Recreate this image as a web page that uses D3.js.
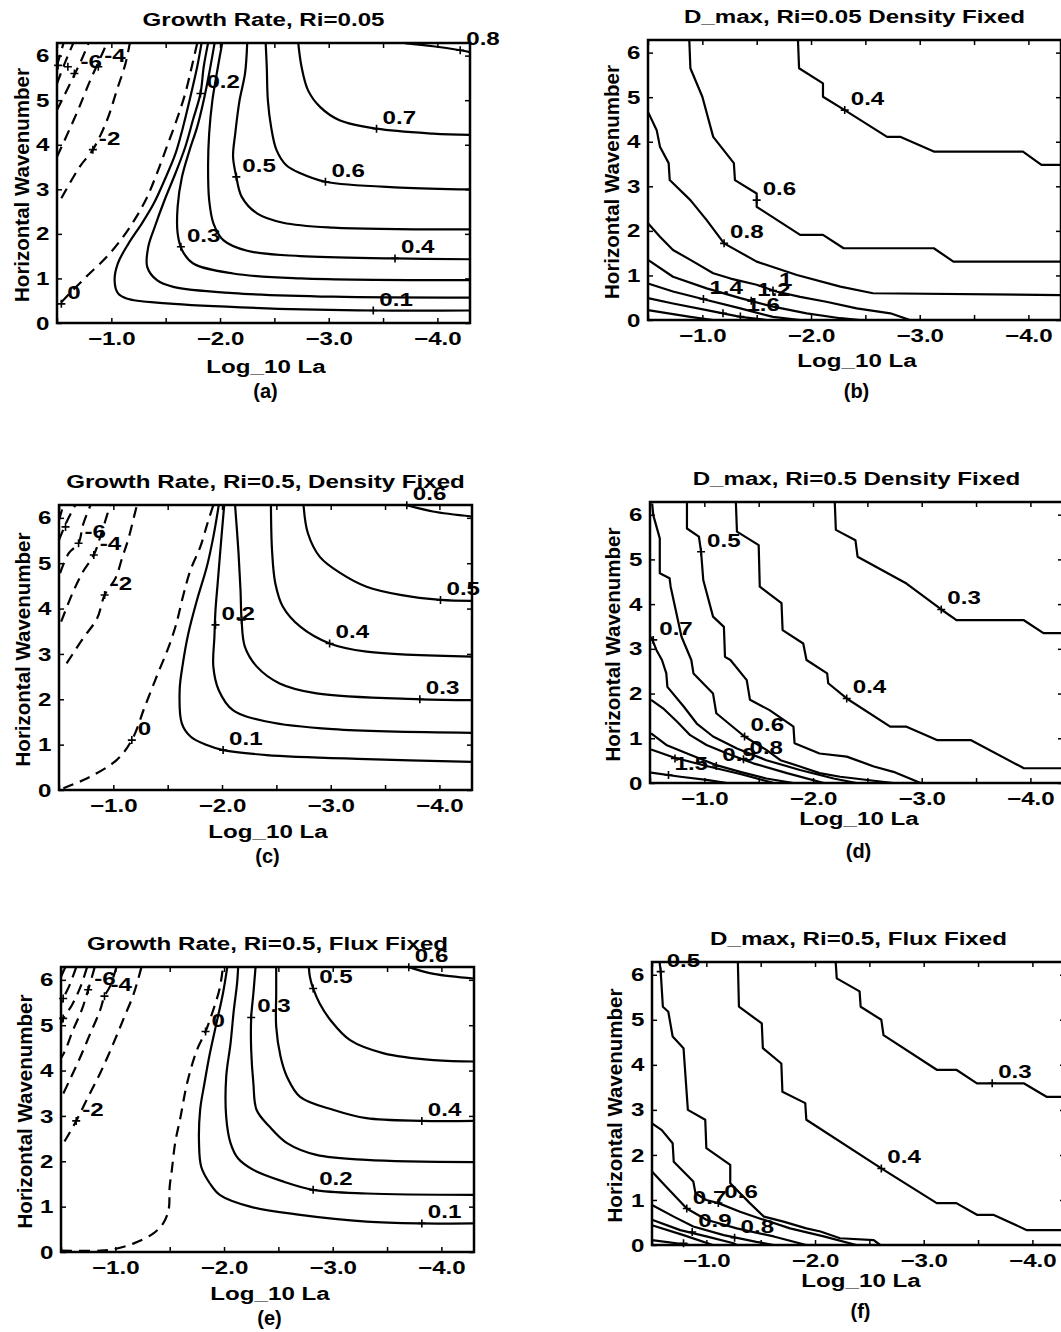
<!DOCTYPE html>
<html>
<head>
<meta charset="utf-8">
<script src="https://cdn.jsdelivr.net/npm/d3@7"></script>
<style>
  body { margin: 0; background: #fff; }
  svg { display: block; }
  text { font-family: "Liberation Sans", Arial, Helvetica, sans-serif; font-weight: bold; font-size: 19px; fill: #000; }
</style>
</head>
<body>
<svg id="fig" width="1061" height="1332"></svg>
<script>
// tick values and labels
const xTicks = [-1, -2, -3, -4];
const xTickLabels = ["\u22121.0", "\u22122.0", "\u22123.0", "\u22124.0"];
const xMinorTicks = [-0.5, -1, -1.5, -2, -2.5, -3, -3.5, -4];
const yTicks = [0, 1, 2, 3, 4, 5, 6];

const titles = [
  "Growth Rate, Ri=0.05", "D_max, Ri=0.05 Density Fixed",
  "Growth Rate, Ri=0.5, Density Fixed", "D_max, Ri=0.5 Density Fixed",
  "Growth Rate, Ri=0.5, Flux Fixed", "D_max, Ri=0.5, Flux Fixed"
];
const panelTags = ["(a)", "(b)", "(c)", "(d)", "(e)", "(f)"];

// contour lines: [log10 La, wavenumber]
const contoursA = [
  { level: 0.8, pts: [[-3.70,6.28],[-3.96,6.21],[-4.21,6.12],[-4.30,6.08]] },
  { level: 0.7, pts: [[-2.72,6.28],[-2.75,5.75],[-2.81,5.22],[-2.92,4.85],[-3.10,4.55],[-3.44,4.36],[-3.96,4.25],[-4.30,4.22]] },
  { level: 0.6, pts: [[-2.42,6.28],[-2.43,5.75],[-2.44,5.00],[-2.47,4.40],[-2.52,3.88],[-2.61,3.54],[-2.74,3.36],[-2.97,3.17],[-3.66,3.04],[-4.30,3.00]] },
  { level: 0.5, pts: [[-2.25,6.28],[-2.23,5.60],[-2.18,5.00],[-2.14,4.25],[-2.12,3.73],[-2.15,3.28],[-2.20,2.83],[-2.34,2.46],[-2.58,2.25],[-3.04,2.14],[-4.30,2.10]] },
  { level: 0.4, pts: [[-2.02,6.28],[-1.97,5.60],[-1.93,5.00],[-1.90,4.25],[-1.89,3.51],[-1.90,2.76],[-1.94,2.23],[-2.03,1.86],[-2.25,1.62],[-2.74,1.50],[-3.61,1.45],[-4.30,1.43]] },
  { level: 0.3, pts: [[-1.95,6.28],[-1.90,5.60],[-1.85,5.00],[-1.79,4.40],[-1.72,3.88],[-1.65,3.28],[-1.61,2.61],[-1.61,2.01],[-1.65,1.64],[-1.75,1.34],[-2.12,1.11],[-2.74,1.00],[-4.30,0.96]] },
  { level: 0.2, pts: [[-1.89,6.28],[-1.85,5.75],[-1.82,5.15],[-1.75,4.55],[-1.68,3.95],[-1.59,3.36],[-1.49,2.76],[-1.40,2.16],[-1.34,1.71],[-1.33,1.26],[-1.42,0.96],[-1.57,0.81],[-2.12,0.67],[-3.04,0.59],[-4.30,0.57]] },
  { level: 0.1, pts: [[-1.83,6.28],[-1.79,5.75],[-1.72,5.00],[-1.66,4.40],[-1.59,3.80],[-1.49,3.21],[-1.39,2.68],[-1.28,2.23],[-1.16,1.79],[-1.06,1.34],[-1.03,0.96],[-1.06,0.67],[-1.14,0.55],[-1.51,0.44],[-2.43,0.33],[-3.41,0.28],[-4.30,0.28]] },
  { level: 0, pts: [[-1.79,6.28],[-1.74,5.75],[-1.68,5.15],[-1.60,4.55],[-1.51,3.95],[-1.42,3.36],[-1.33,2.83],[-1.23,2.38],[-1.11,1.94],[-0.96,1.49],[-0.77,1.04],[-0.62,0.67],[-0.53,0.44]] },
  { level: -2, pts: [[-0.54,2.80],[-0.71,3.51],[-0.83,3.89],[-0.96,4.55],[-1.05,5.22],[-1.13,5.82],[-1.17,6.28]] },
  { level: -4, pts: [[-0.50,3.73],[-0.68,4.70],[-0.80,5.41],[-0.91,6.01],[-0.96,6.28]] },
  { level: -6, pts: [[-0.50,4.78],[-0.62,5.37],[-0.73,5.93],[-0.79,6.28]] },
  { level: -8, pts: [[-0.50,5.37],[-0.57,5.82],[-0.65,6.28]] },
  { level: -10, pts: [[-0.50,5.78],[-0.56,6.28]] }
];
const labelsA = [["0.8",-4.21,6.12],["0.7",-3.44,4.36],["0.6",-2.97,3.17],["0.5",-2.15,3.28],["0.4",-3.61,1.45],
  ["0.3",-1.64,1.71],["0.2",-1.82,5.15],["0.1",-3.41,0.28],["0",-0.54,0.43],["-2",-0.83,3.89],["-4",-0.88,5.75],
  ["-6",-0.66,5.60],["",-0.51,5.78],["",-0.60,5.75]];

const contoursB = [
  { level: 0.4, pts: [[-1.88,6.28],[-1.89,5.65],[-2.11,5.31],[-2.11,5.01],[-2.31,4.71],[-2.70,4.11],[-2.82,4.11],[-3.13,3.78],[-3.95,3.78],[-4.12,3.48],[-4.30,3.48]] },
  { level: 0.6, pts: [[-0.88,6.28],[-0.89,5.65],[-1.00,5.01],[-1.10,4.11],[-1.29,3.52],[-1.30,3.14],[-1.50,2.84],[-1.50,2.54],[-1.90,1.91],[-2.11,1.91],[-2.30,1.61],[-3.13,1.61],[-3.31,1.31],[-4.30,1.31]] },
  { level: 0.8, pts: [[-0.50,4.67],[-0.58,4.26],[-0.61,3.89],[-0.69,3.52],[-0.70,3.14],[-0.89,2.69],[-1.04,2.24],[-1.20,1.72],[-1.50,1.31],[-1.87,1.01],[-2.27,0.75],[-2.57,0.60],[-4.30,0.56]] },
  { level: 1.0, pts: [[-0.50,2.17],[-0.61,1.87],[-0.73,1.57],[-0.89,1.35],[-1.10,1.05],[-1.26,0.93],[-1.50,0.79],[-1.68,0.64],[-1.90,0.52],[-2.14,0.41],[-2.42,0.26],[-2.73,0.15],[-2.91,0]] },
  { level: 1.2, pts: [[-0.50,1.35],[-0.73,0.97],[-1.04,0.71],[-1.35,0.49],[-1.65,0.30],[-1.96,0.15],[-2.27,0.04],[-2.45,0]] },
  { level: 1.4, pts: [[-0.50,0.82],[-0.73,0.64],[-1.04,0.45],[-1.35,0.26],[-1.65,0.07],[-1.90,0]] },
  { level: 1.6, pts: [[-0.50,0.49],[-0.73,0.37],[-1.04,0.22],[-1.35,0.07],[-1.59,0]] },
  { level: 1.8, pts: [[-0.50,0.22],[-0.89,0.07],[-1.10,0]] }
];
const labelsB = [["0.4",-2.31,4.71],["0.6",-1.50,2.69],["0.8",-1.20,1.72],["1",-1.65,0.66],["1.2",-1.45,0.43],
  ["1.4",-1.01,0.47],["1.6",-1.35,0.08],["",-1.19,0.15]];

const contoursC = [
  { level: 0.6, pts: [[-3.70,6.28],[-3.94,6.14],[-4.30,6.03]] },
  { level: 0.5, pts: [[-2.75,6.28],[-2.79,5.66],[-2.90,5.14],[-3.09,4.78],[-3.33,4.48],[-3.64,4.30],[-4.01,4.19],[-4.30,4.17]] },
  { level: 0.4, pts: [[-2.45,6.28],[-2.46,5.29],[-2.49,4.56],[-2.56,4.04],[-2.72,3.60],[-2.99,3.23],[-3.33,3.05],[-4.30,2.94]] },
  { level: 0.3, pts: [[-2.12,6.28],[-2.15,5.29],[-2.17,4.41],[-2.18,3.75],[-2.21,3.16],[-2.32,2.72],[-2.53,2.35],[-2.87,2.13],[-3.82,2.00],[-4.30,1.98]] },
  { level: 0.2, pts: [[-2.02,6.28],[-1.99,5.44],[-1.96,4.56],[-1.94,3.97],[-1.93,3.38],[-1.92,2.72],[-1.97,2.20],[-2.10,1.76],[-2.41,1.51],[-3.02,1.34],[-4.30,1.26]] },
  { level: 0.1, pts: [[-1.97,6.28],[-1.92,5.58],[-1.86,4.92],[-1.77,4.19],[-1.69,3.45],[-1.64,2.79],[-1.61,2.20],[-1.63,1.47],[-1.71,1.18],[-1.86,0.99],[-2.01,0.88],[-2.41,0.77],[-3.33,0.68],[-4.30,0.62]] },
  { level: 0, pts: [[-1.92,6.28],[-1.87,5.91],[-1.80,5.36],[-1.71,4.85],[-1.64,4.26],[-1.58,3.67],[-1.51,3.16],[-1.41,2.57],[-1.29,1.84],[-1.17,1.10],[-1.03,0.66],[-0.76,0.26],[-0.54,0.04]] },
  { level: -2, pts: [[-0.57,2.79],[-0.72,3.34],[-0.85,3.78],[-0.92,4.30],[-1.02,4.67],[-1.08,5.11],[-1.14,5.55],[-1.21,6.21],[-1.22,6.28]] },
  { level: -4, pts: [[-0.52,3.71],[-0.63,4.37],[-0.72,4.81],[-0.82,5.18],[-0.89,5.66],[-0.97,6.28]] },
  { level: -6, pts: [[-0.51,4.78],[-0.59,5.22],[-0.68,5.44],[-0.72,5.84],[-0.79,6.28]] },
  { level: -8, pts: [[-0.50,5.51],[-0.57,5.91],[-0.65,6.28]] },
  { level: -10, pts: [[-0.50,5.95],[-0.54,6.28]] }
];
const labelsC = [["0.6",-3.70,6.28],["0.5",-4.01,4.19],["0.4",-2.99,3.23],["0.3",-3.82,2.00],["0.2",-1.94,3.64],
  ["",-2.18,3.75],["0.1",-2.01,0.88],["0",-1.17,1.10],["-2",-0.92,4.30],["-4",-0.82,5.18],["-6",-0.68,5.44],["",-0.56,5.80]];

const contoursD = [
  { level: 0.3, pts: [[-2.20,6.28],[-2.21,5.66],[-2.39,5.43],[-2.41,5.06],[-2.86,4.46],[-3.18,3.88],[-3.32,3.64],[-3.94,3.64],[-4.12,3.35],[-4.30,3.35]] },
  { level: 0.4, pts: [[-1.29,6.28],[-1.30,5.62],[-1.50,5.32],[-1.51,4.39],[-1.71,4.02],[-1.72,3.42],[-1.91,3.12],[-1.94,2.75],[-2.13,2.45],[-2.14,2.23],[-2.31,1.89],[-2.71,1.26],[-2.86,1.26],[-3.14,0.96],[-3.45,0.96],[-3.94,0.33],[-4.30,0.33]] },
  { level: 0.5, pts: [[-0.84,6.28],[-0.84,5.69],[-0.95,5.51],[-0.97,5.17],[-0.99,4.54],[-1.08,3.72],[-1.18,3.49],[-1.19,2.82],[-1.24,2.75],[-1.39,2.30],[-1.42,1.86],[-1.60,1.63],[-1.82,1.26],[-1.83,0.89],[-2.06,0.66],[-2.31,0.59],[-2.56,0.37],[-2.74,0.25],[-2.99,0]] },
  { level: 0.6, pts: [[-0.52,6.25],[-0.53,5.99],[-0.59,5.47],[-0.59,4.69],[-0.68,4.58],[-0.69,4.39],[-0.79,3.27],[-0.88,2.75],[-0.90,2.45],[-1.08,2.00],[-1.11,1.56],[-1.30,1.18],[-1.37,1.04],[-1.57,0.74],[-1.70,0.51],[-1.88,0.37],[-2.06,0.22],[-2.25,0.14],[-2.56,0.05],[-2.74,0]] },
  { level: 0.7, pts: [[-0.51,3.27],[-0.56,2.97],[-0.61,2.75],[-0.65,2.45],[-0.66,2.15],[-0.81,1.71],[-0.93,1.33],[-1.08,1.04],[-1.30,0.77],[-1.57,0.51],[-1.88,0.29],[-2.19,0.10],[-2.40,0]] },
  { level: 0.8, pts: [[-0.51,1.86],[-0.62,1.67],[-0.75,1.37],[-0.87,1.07],[-1.02,0.85],[-1.21,0.66],[-1.45,0.44],[-1.76,0.22],[-2.10,0]] },
  { level: 0.9, pts: [[-0.51,1.11],[-0.65,0.85],[-0.87,0.63],[-1.11,0.40],[-1.33,0.25],[-1.57,0.10],[-1.82,0]] },
  { level: 1.0, pts: [[-0.51,0.75],[-0.72,0.57],[-1.02,0.38],[-1.33,0.20],[-1.64,0]] },
  { level: 1.5, pts: [[-0.51,0.23],[-0.78,0.14],[-1.02,0.07],[-1.21,0]] }
];
const labelsD = [["0.3",-3.18,3.88],["0.4",-2.31,1.89],["0.5",-0.97,5.17],["0.6",-1.37,1.04],["0.7",-0.53,3.20],
  ["0.9",-1.11,0.38],["0.8",-1.36,0.53],["1.5",-0.67,0.18],["",-0.73,0.55]];

const contoursE = [
  { level: 0.6, pts: [[-3.70,6.28],[-3.93,6.13],[-4.30,6.03]] },
  { level: 0.5, pts: [[-2.78,6.28],[-2.79,6.07],[-2.82,5.81],[-2.88,5.48],[-2.98,5.11],[-3.16,4.67],[-3.47,4.38],[-3.93,4.23],[-4.30,4.20]] },
  { level: 0.4, pts: [[-2.48,6.28],[-2.48,5.70],[-2.48,4.97],[-2.52,4.31],[-2.58,3.86],[-2.70,3.42],[-3.01,3.13],[-3.31,2.95],[-3.82,2.89],[-4.30,2.89]] },
  { level: 0.3, pts: [[-2.29,6.28],[-2.27,5.70],[-2.25,5.17],[-2.25,4.45],[-2.27,3.72],[-2.30,3.13],[-2.42,2.76],[-2.58,2.40],[-2.85,2.14],[-3.31,2.03],[-4.30,1.98]] },
  { level: 0.2, pts: [[-2.13,6.28],[-2.12,5.92],[-2.09,5.33],[-2.06,4.60],[-2.02,3.86],[-2.02,2.98],[-2.06,2.40],[-2.13,2.06],[-2.27,1.81],[-2.55,1.55],[-2.82,1.37],[-3.31,1.29],[-4.30,1.26]] },
  { level: 0.1, pts: [[-2.03,6.28],[-1.99,5.70],[-1.93,5.04],[-1.87,4.38],[-1.82,3.72],[-1.78,3.13],[-1.77,2.40],[-1.79,1.88],[-1.87,1.51],[-1.96,1.26],[-2.24,1.00],[-2.70,0.82],[-3.31,0.67],[-3.82,0.63],[-4.30,0.63]] },
  { level: 0, pts: [[-0.50,0.03],[-0.86,0.03],[-0.98,0.06],[-1.17,0.19],[-1.35,0.41],[-1.44,0.63],[-1.49,0.93],[-1.50,1.44],[-1.52,1.81],[-1.55,2.40],[-1.60,2.98],[-1.66,3.72],[-1.75,4.45],[-1.83,4.86],[-1.90,5.33],[-1.96,5.81],[-1.99,6.28]] },
  { level: -2, pts: [[-1.24,6.28],[-1.17,5.70],[-1.07,5.11],[-0.97,4.53],[-0.86,3.94],[-0.75,3.42],[-0.64,2.89],[-0.54,2.47],[-0.50,2.32]] },
  { level: -4, pts: [[-1.01,6.28],[-0.95,5.85],[-0.90,5.64],[-0.86,5.33],[-0.77,4.82],[-0.68,4.31],[-0.58,3.79],[-0.50,3.39]] },
  { level: -6, pts: [[-0.81,6.28],[-0.75,5.78],[-0.69,5.33],[-0.61,4.89],[-0.54,4.45],[-0.50,4.27]] },
  { level: -8, pts: [[-0.74,6.28],[-0.68,5.85],[-0.60,5.44],[-0.52,5.15],[-0.50,5.04]] },
  { level: -10, pts: [[-0.64,6.28],[-0.58,5.89],[-0.52,5.59],[-0.50,5.48]] },
  { level: -12, pts: [[-0.54,6.28],[-0.50,6.07]] }
];
const labelsE = [["0.6",-3.70,6.28],["0.5",-2.82,5.81],["0.4",-3.82,2.89],["0.3",-2.25,5.17],["0.2",-2.82,1.37],
  ["0.1",-3.82,0.63],["0",-1.83,4.86],["-2",-0.64,2.89],["-4",-0.90,5.64],["-6",-0.75,5.78],["",-0.52,5.59],["",-0.52,5.15]];

const contoursF = [
  { level: 0.3, pts: [[-2.19,6.28],[-2.20,5.92],[-2.41,5.63],[-2.42,5.29],[-2.61,5.00],[-2.63,4.66],[-3.12,3.89],[-3.30,3.89],[-3.49,3.59],[-3.92,3.59],[-4.13,3.29],[-4.30,3.29]] },
  { level: 0.4, pts: [[-1.29,6.28],[-1.30,5.29],[-1.51,4.92],[-1.52,4.37],[-1.69,4.03],[-1.70,3.40],[-1.91,3.15],[-1.92,2.78],[-2.61,1.70],[-3.12,0.93],[-3.30,0.93],[-3.49,0.67],[-3.64,0.67],[-3.95,0.33],[-4.30,0.33]] },
  { level: 0.5, pts: [[-0.57,6.28],[-0.58,6.07],[-0.60,5.29],[-0.65,5.18],[-0.69,4.63],[-0.79,4.37],[-0.80,4.03],[-0.83,3.00],[-0.99,2.78],[-1.00,2.15],[-1.22,1.78],[-1.22,1.37],[-1.40,0.93],[-1.53,0.63],[-1.71,0.52],[-1.92,0.37],[-2.05,0.30],[-2.23,0.15],[-2.54,0.11],[-2.60,0]] },
  { level: 0.6, pts: [[-0.50,2.70],[-0.59,2.55],[-0.69,2.26],[-0.70,1.85],[-0.88,1.41],[-0.90,1.15],[-1.00,1.00],[-1.11,0.93],[-1.31,0.74],[-1.49,0.59],[-1.77,0.37],[-2.08,0.19],[-2.38,0]] },
  { level: 0.7, pts: [[-0.50,1.63],[-0.60,1.37],[-0.82,0.81],[-1.00,0.56],[-1.28,0.37],[-1.62,0.19],[-1.92,0]] },
  { level: 0.8, pts: [[-0.50,0.89],[-0.70,0.63],[-0.88,0.41],[-1.16,0.22],[-1.46,0.07],[-1.62,0]] },
  { level: 0.9, pts: [[-0.50,0.56],[-0.76,0.33],[-1.00,0.19],[-1.25,0.04],[-1.28,0]] },
  { level: 1.0, pts: [[-0.50,0.44],[-0.79,0.22],[-1.06,0]] },
  { level: 1.5, pts: [[-0.50,0.11],[-0.85,0]] }
];
const labelsF = [["0.5",-0.58,6.07],["0.3",-3.63,3.59],["0.4",-2.61,1.70],["0.6",-1.11,0.93],["0.7",-0.82,0.81],
  ["0.9",-0.87,0.29],["0.8",-1.26,0.16],["",-0.79,0.04]];

// page layout of the six panels
const plotW = 413;
const layout = [
  { left: 57,  top: 43,  bottom: 323,  smooth: true,  xtDy: 50, tagDy: 75, ytX: 28.5,  contours: contoursA, labels: labelsA },
  { left: 648, top: 40,  bottom: 320,  smooth: false, xtDy: 47, tagDy: 78, ytX: 618.5, contours: contoursB, labels: labelsB },
  { left: 59,  top: 505, bottom: 790,  smooth: true,  xtDy: 48, tagDy: 73, ytX: 30,    contours: contoursC, labels: labelsC },
  { left: 650, top: 502, bottom: 783,  smooth: false, xtDy: 42, tagDy: 75, ytX: 620,   contours: contoursD, labels: labelsD },
  { left: 61,  top: 967, bottom: 1252, smooth: true,  xtDy: 48, tagDy: 73, ytX: 31.5,  contours: contoursE, labels: labelsE },
  { left: 652, top: 962, bottom: 1245, smooth: false, xtDy: 42, tagDy: 73, ytX: 621.5, contours: contoursF, labels: labelsF }
];
const stretch = "scale(1.27,1)";

const svg = d3.select("#fig");
svg.append("rect").attr("width", 1061).attr("height", 1332).attr("fill", "#fff");

layout.forEach(function(p, i) {
  let x = d3.scaleLinear().domain([-0.5, -4.3]).range([p.left, p.left + plotW]);
  let y = d3.scaleLinear().domain([0, 2 * Math.PI]).range([p.bottom, p.top]);
  let g = svg.append("g");
  let cx = p.left + plotW / 2;

  g.append("clipPath").attr("id", "clip" + i)
    .append("rect")
    .attr("x", p.left - 1).attr("y", p.top - 1)
    .attr("width", plotW + 2).attr("height", p.bottom - p.top + 2);

  let line = d3.line()
    .x(d => x(d[0]))
    .y(d => y(d[1]))
    .curve(p.smooth ? d3.curveCatmullRom.alpha(0.5) : d3.curveLinear);

  g.append("g").attr("clip-path", "url(#clip" + i + ")")
    .selectAll("path")
    .data(p.contours)
    .join("path")
    .attr("d", d => line(d.pts))
    .attr("fill", "none")
    .attr("stroke", "#000")
    .attr("stroke-width", 2.2)
    .attr("stroke-linejoin", "round")
    .attr("stroke-dasharray", d => d.level <= 0 ? "11,7" : null);

  // axes, ticks pointing inwards
  let fmt = d => { let k = xTicks.indexOf(d); return k < 0 ? "" : xTickLabels[k]; };
  g.append("g").attr("transform", `translate(0,${p.bottom})`)
    .call(d3.axisBottom(x).tickValues(xMinorTicks).tickSizeInner(-5).tickSizeOuter(0).tickPadding(9).tickFormat(fmt));
  g.append("g").attr("transform", `translate(0,${p.top})`)
    .call(d3.axisTop(x).tickValues(xMinorTicks).tickSizeInner(-5).tickSizeOuter(0).tickFormat(""));
  g.append("g").attr("transform", `translate(${p.left},0)`)
    .call(d3.axisLeft(y).tickValues(yTicks).tickSizeInner(-5).tickSizeOuter(0).tickPadding(6).tickFormat(d3.format("d")));
  g.append("g").attr("transform", `translate(${p.left + plotW},0)`)
    .call(d3.axisRight(y).tickValues(yTicks).tickSizeInner(-5).tickSizeOuter(0).tickFormat(""));

  g.selectAll(".domain").remove();
  g.selectAll(".tick line").attr("stroke-width", 1.5);
  g.selectAll(".tick text").attr("transform", stretch);

  g.append("rect")
    .attr("x", p.left).attr("y", p.top)
    .attr("width", plotW).attr("height", p.bottom - p.top)
    .attr("fill", "none").attr("stroke", "#000").attr("stroke-width", 2.5);

  // contour labels: a "+" on the line, value beside it
  let lab = g.append("g").selectAll("g").data(p.labels).join("g")
    .attr("transform", d => `translate(${x(d[1])},${y(d[2])})`);
  lab.append("path").attr("d", "M-4,0H4M0,-4V4")
    .attr("stroke", "#000").attr("stroke-width", 1.6);
  lab.append("text")
    .attr("transform", "translate(6,-5) " + stretch)
    .text(d => d[0]);

  // titles
  g.append("text").attr("text-anchor", "middle")
    .attr("transform", `translate(${cx},${p.top - 17}) ${stretch}`)
    .text(titles[i]);
  g.append("text").attr("text-anchor", "middle")
    .attr("transform", `translate(${cx + 2.5},${p.bottom + p.xtDy}) ${stretch}`)
    .text("Log_10 La");
  g.append("text").attr("text-anchor", "middle")
    .style("font-size", "20px")
    .attr("transform", `translate(${cx + 2},${p.bottom + p.tagDy})`)
    .text(panelTags[i]);
  g.append("text").attr("text-anchor", "middle")
    .style("font-size", "20.5px")
    .attr("transform", `translate(${p.ytX},${(p.top + p.bottom) / 2 + 2}) rotate(-90)`)
    .text("Horizontal Wavenumber");
});
</script>
</body>
</html>
